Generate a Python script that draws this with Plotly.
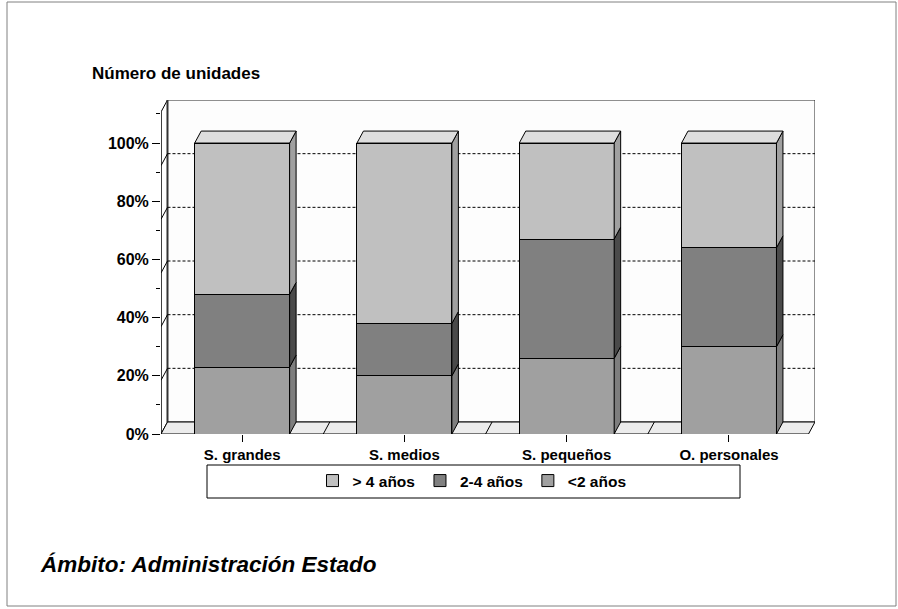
import plotly.graph_objects as go

# ---- data ----
categories = ["S. grandes", "S. medios", "S. pequeños", "O. personales"]
menos_2 = [23, 20, 26, 30]
entre_2_4 = [25, 18, 41, 34]
mas_4 = [52, 62, 33, 36]
series_names = ["<2 años", "2-4 años", "> 4 años"]
y_tick_vals = [0, 20, 40, 60, 80, 100]
y_tick_text = ["0%", "20%", "40%", "60%", "80%", "100%"]
y_minor_vals = [10, 30, 50, 70, 90, 110]
title_text = "Número de unidades"
footer_text = "Ámbito: Administración Estado"

# ---- style ----
FONT = "Liberation Sans, Arial, sans-serif"
front_colors = ["#A0A0A0", "#808080", "#C0C0C0"]
side_colors = ["#7E7E7E", "#4A4A4A", "#A0A0A0"]
top_color = "#DEDEDE"
W, H = 898, 609
L, R, T, B = 161, 83, 100, 175
X_MIN, X_MAX = -0.5, 3.53
Y_MAX = 114.8
BAR_W = 0.585
DX = 0.04      # depth offset in x (category units)
DY = 4.12      # depth offset in y (percent units)
BACK_MAX = 120.0

series = [menos_2, entre_2_4, mas_4]

fig = go.Figure()
for name, vals, col in zip(series_names, series, front_colors):
    fig.add_trace(go.Bar(
        x=categories, y=vals, name=name, width=BAR_W,
        marker=dict(color=col, line=dict(color="black", width=1)),
        hoverinfo="skip",
    ))

shapes = []
line_blk = dict(color="black", width=1)

def back_y(v):
    return DY + v * (Y_MAX - DY) / BACK_MAX

x0 = X_MIN
xr_front = X_MAX - DX
# back wall
shapes.append(dict(type="rect", xref="x", yref="y", x0=x0 + DX, x1=X_MAX, y0=DY, y1=Y_MAX,
                   fillcolor="#FDFDFD", line=dict(color="#222", width=1), layer="below"))
# left wall
shapes.append(dict(type="path", xref="x", yref="y",
                   path=f"M{x0},0 L{x0},{Y_MAX - DY} L{x0 + DX},{Y_MAX} L{x0 + DX},{DY} Z",
                   fillcolor="white", line=line_blk, layer="below"))
shapes.append(dict(type="line", xref="x", yref="y", x0=x0 + DX, x1=x0 + DX, y0=DY, y1=Y_MAX,
                   line=dict(color="#333", width=2), layer="below"))
# floor
shapes.append(dict(type="path", xref="x", yref="y",
                   path=f"M{x0},0 L{xr_front},0 L{X_MAX},{DY} L{x0 + DX},{DY} Z",
                   fillcolor="#ECECEC", line=line_blk, layer="below"))
for i in range(len(categories) - 1):
    xb = i + 0.5
    shapes.append(dict(type="line", xref="x", yref="y", x0=xb, y0=0, x1=xb + DX, y1=DY,
                       line=line_blk, layer="below"))
# gridlines on back wall + left wall
for v in y_tick_vals[1:]:
    yb = back_y(v)
    shapes.append(dict(type="line", xref="x", yref="y", x0=x0 + DX, x1=X_MAX, y0=yb, y1=yb,
                       line=dict(color="black", width=1, dash="3px,2px"), layer="below"))
    shapes.append(dict(type="line", xref="x", yref="y", x0=x0, x1=x0 + DX, y0=yb - DY, y1=yb,
                       line=dict(color="black", width=1), layer="below"))
# front axis line
shapes.append(dict(type="line", xref="x", yref="y", x0=x0, x1=x0, y0=0, y1=Y_MAX - DY,
                   line=line_blk, layer="above"))

# 3D faces of bars
for ci in range(len(categories)):
    base = 0.0
    xr = ci + BAR_W / 2
    xl = ci - BAR_W / 2
    for si, vals in enumerate(series):
        top = base + vals[ci]
        shapes.append(dict(type="path", xref="x", yref="y",
                           path=f"M{xr},{base} L{xr + DX},{base + DY} L{xr + DX},{top + DY} L{xr},{top} Z",
                           fillcolor=side_colors[si], line=line_blk, layer="above"))
        base = top
    shapes.append(dict(type="path", xref="x", yref="y",
                       path=f"M{xl},{base} L{xl + DX},{base + DY} L{xr + DX},{base + DY} L{xr},{base} Z",
                       fillcolor=top_color, line=line_blk, layer="above"))

def px_x(p):
    return (p - L) / (W - L - R)

def px_y(p):
    return (H - B - p) / (H - T - B)

# legend frame
shapes.append(dict(type="rect", xref="paper", yref="paper",
                   x0=px_x(207), x1=px_x(740), y0=px_y(465), y1=px_y(498),
                   fillcolor="white", line=line_blk, layer="below"))
# outer border
shapes.append(dict(type="rect", xref="paper", yref="paper",
                   x0=px_x(7), x1=px_x(896), y0=px_y(2), y1=px_y(606),
                   fillcolor="rgba(0,0,0,0)", line=dict(color="#808080", width=1), layer="below"))

fig.update_layout(
    width=W, height=H,
    margin=dict(l=L, r=R, t=T, b=B, pad=0),
    barmode="stack",
    paper_bgcolor="white", plot_bgcolor="white",
    shapes=shapes,
    showlegend=True,
    legend=dict(orientation="h", traceorder="reversed",
                x=px_x(472), y=px_y(481), xanchor="center", yanchor="middle",
                bgcolor="rgba(0,0,0,0)", borderwidth=0, itemwidth=30,
                font=dict(family=FONT, size=15.5, color="black", weight="bold")),
    xaxis=dict(range=[X_MIN, X_MAX], showgrid=False, zeroline=False, showline=False,
               ticks="outside", ticklen=7, tickcolor="black", tickwidth=1,
               tickfont=dict(family=FONT, size=15, color="black", weight="bold")),
    yaxis=dict(range=[0, Y_MAX], showgrid=False, zeroline=False, showline=False,
               tickmode="array", tickvals=y_tick_vals, ticktext=y_tick_text,
               ticks="outside", ticklen=8, tickcolor="black", tickwidth=1,
               minor=dict(tickmode="array", tickvals=y_minor_vals, ticks="outside",
                          ticklen=4, tickcolor="black", showgrid=False),
               tickfont=dict(family=FONT, size=16, color="black", weight="bold")),
    annotations=[
        dict(text=title_text, xref="paper", yref="paper", x=px_x(90), y=px_y(73),
             xanchor="left", yanchor="middle", showarrow=False,
             font=dict(family=FONT, size=17, color="black", weight="bold")),
        dict(text="<i>" + footer_text + "</i>", xref="paper", yref="paper", x=px_x(38), y=px_y(564),
             xanchor="left", yanchor="middle", showarrow=False,
             font=dict(family=FONT, size=22.5, color="black", weight="bold")),
    ],
)

fig.write_html("out.html", config={"displayModeBar": False},
               post_script="document.body.style.margin='0';document.body.style.overflow='hidden';")
